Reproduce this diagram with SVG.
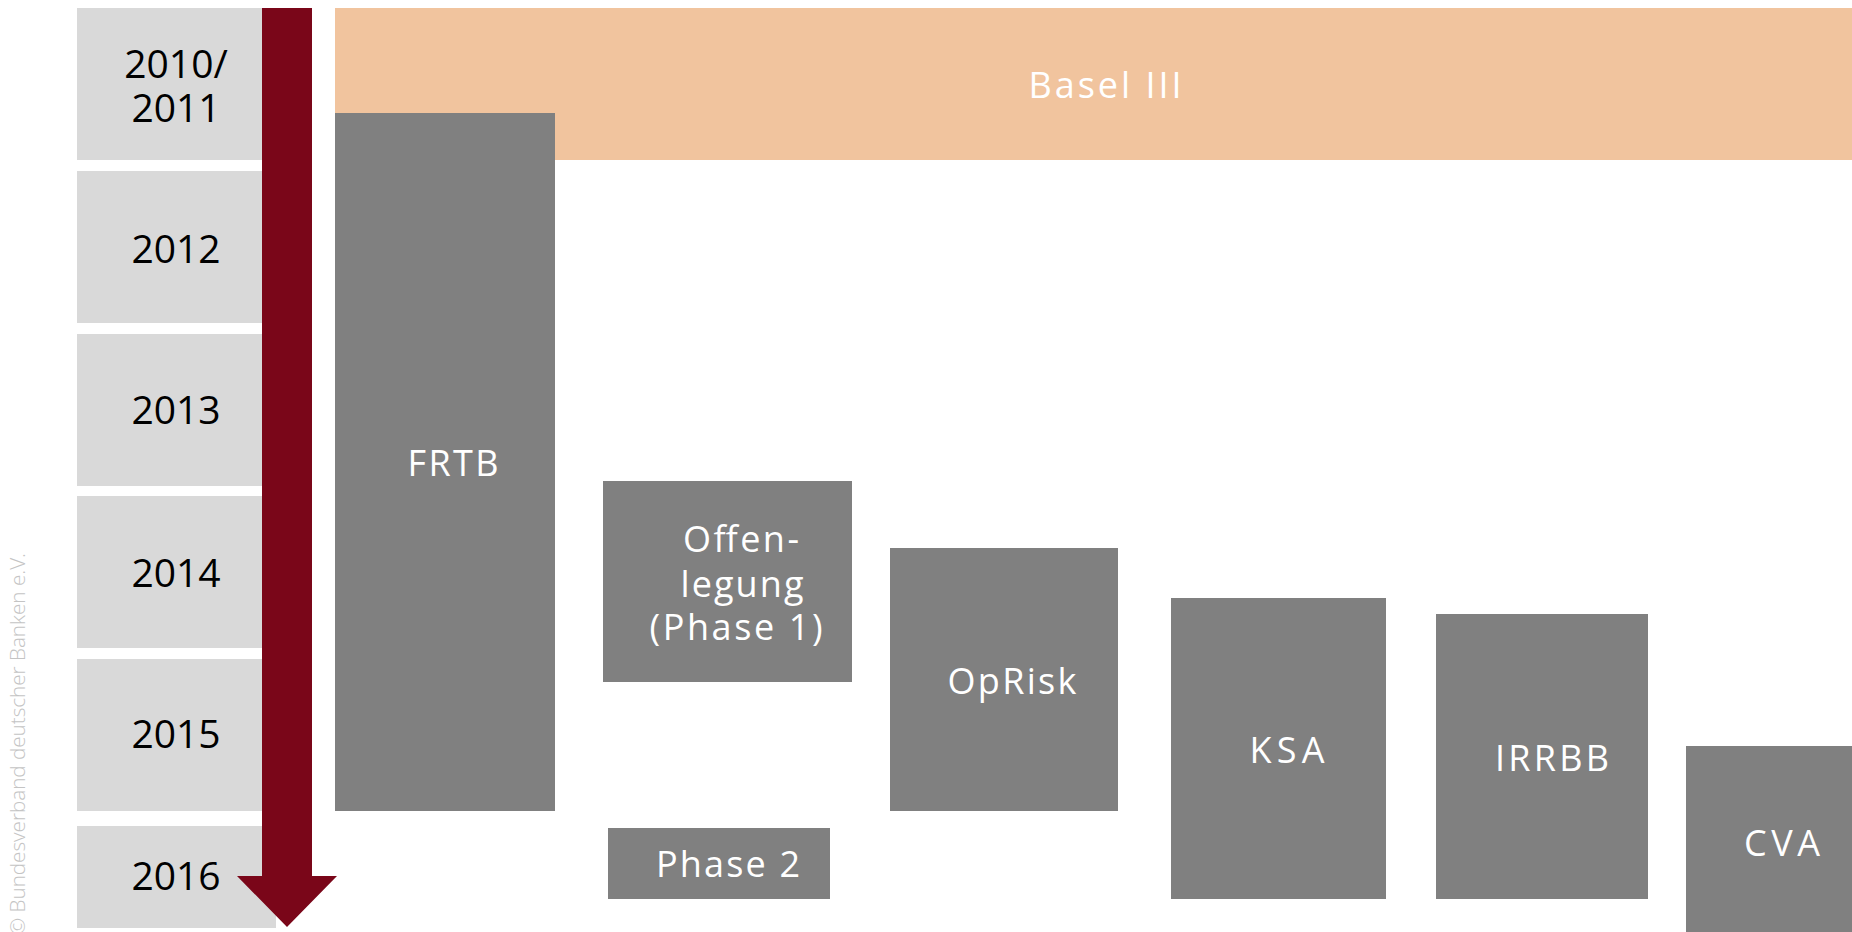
<svg xmlns="http://www.w3.org/2000/svg" width="1852" height="932" viewBox="0 0 1852 932">
<style>
.year{fill:#d9d9d9}
.yt{font-family:"Open Sans","Liberation Sans",sans-serif;font-size:39px;fill:#000;text-anchor:middle}
.box{fill:#808080}
.lbl{font-family:"Open Sans","Liberation Sans",sans-serif;font-size:36px;fill:#fff;text-anchor:middle}
</style>
<rect width="1852" height="932" fill="#fff"/>
<text transform="translate(25,935) rotate(-90)" font-family="Open Sans, Liberation Sans, sans-serif" font-size="20" font-weight="300" fill="#c4c4c4" textLength="382" lengthAdjust="spacingAndGlyphs">© Bundesverband deutscher Banken e.V.</text>
<g id="years">
<g id="y2010"><rect class="year" x="77" y="8" width="199" height="152"/><text class="yt" x="176" y="78">2010/</text><text class="yt" x="176" y="122">2011</text></g>
<g id="y2012"><rect class="year" x="77" y="171" width="199" height="152"/><text class="yt" x="176" y="263">2012</text></g>
<g id="y2013"><rect class="year" x="77" y="334" width="199" height="152"/><text class="yt" x="176" y="424">2013</text></g>
<g id="y2014"><rect class="year" x="77" y="496" width="199" height="152"/><text class="yt" x="176" y="587">2014</text></g>
<g id="y2015"><rect class="year" x="77" y="659" width="199" height="152"/><text class="yt" x="176" y="748">2015</text></g>
<g id="y2016"><rect class="year" x="77" y="826" width="199" height="102"/><text class="yt" x="176" y="890">2016</text></g>
</g>
<g id="connectors">
<polygon points="262,8 312,8 312,876 337,876 287,927 237,876 262,876" fill="#7a0619"/>
</g>
<g id="basel3"><rect x="335" y="8" width="1517" height="152" fill="#f1c49e"/><text class="lbl" x="1105" y="98" font-size="35" textLength="153" lengthAdjust="spacing">Basel III</text></g>
<g id="frtb"><rect class="box" x="335" y="113" width="220" height="698"/><text class="lbl" x="453" y="476" font-size="35" textLength="91" lengthAdjust="spacing">FRTB</text></g>
<g id="offenlegung"><rect class="box" x="603" y="481" width="249" height="201"/><text class="lbl" x="741" y="552" textLength="116" lengthAdjust="spacing">Offen-</text><text class="lbl" x="742" y="597" textLength="123" lengthAdjust="spacing">legung</text><text class="lbl" x="736" y="640" textLength="173" lengthAdjust="spacing">(Phase 1)</text></g>
<g id="phase2"><rect class="box" x="608" y="828" width="222" height="71"/><text class="lbl" x="728" y="877" textLength="144" lengthAdjust="spacing">Phase 2</text></g>
<g id="oprisk"><rect class="box" x="890" y="548" width="228" height="263"/><text class="lbl" x="1012" y="694" textLength="129" lengthAdjust="spacing">OpRisk</text></g>
<g id="ksa"><rect class="box" x="1171" y="598" width="215" height="301"/><text class="lbl" x="1287" y="763" textLength="75" lengthAdjust="spacing">KSA</text></g>
<g id="irrbb"><rect class="box" x="1436" y="614" width="212" height="285"/><text class="lbl" x="1552" y="771" textLength="114" lengthAdjust="spacing">IRRBB</text></g>
<g id="cva"><rect class="box" x="1686" y="746" width="166" height="186"/><text class="lbl" x="1782" y="856" textLength="76" lengthAdjust="spacing">CVA</text></g>
</svg>
